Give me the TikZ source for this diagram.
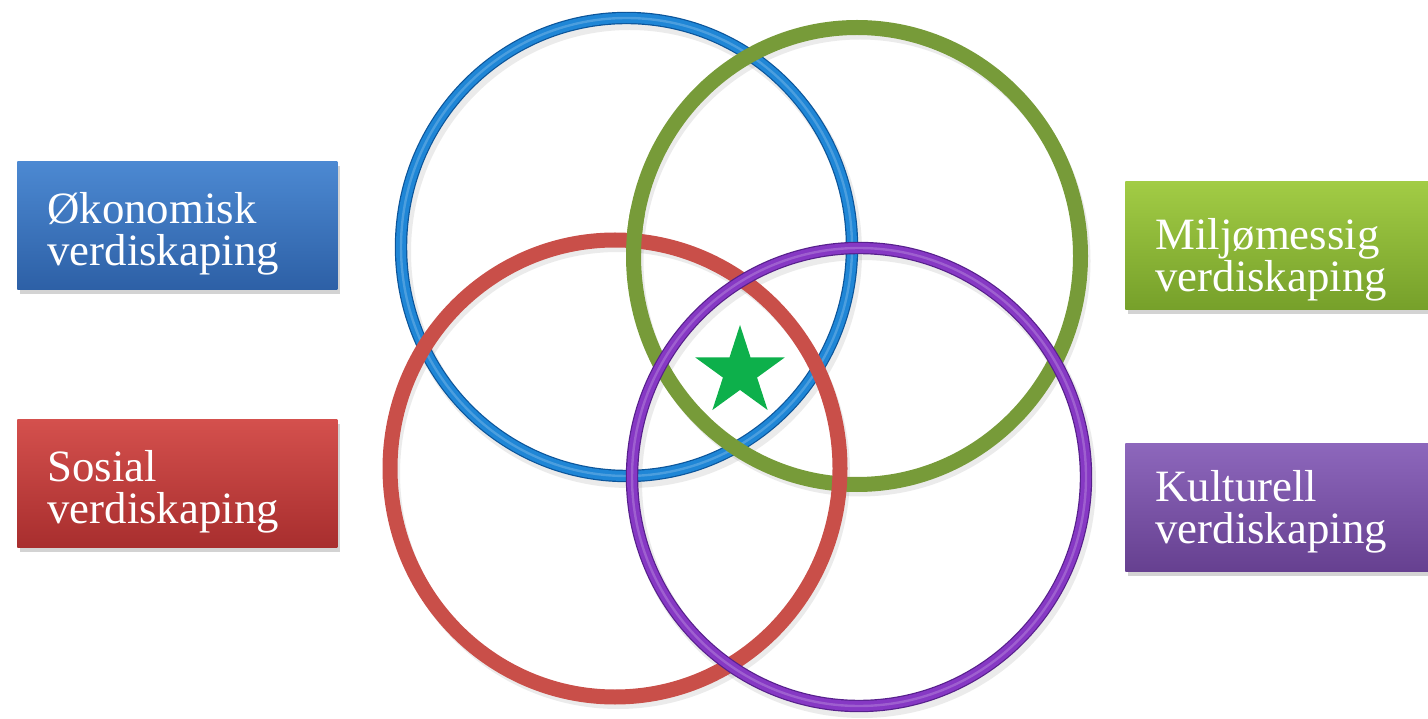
\documentclass[tikz,border=0pt]{standalone}
\usepackage{fontspec}
\setmainfont{Liberation Serif}
\usepackage{tikz}
\usetikzlibrary{shapes.geometric,shadows}
\definecolor{cBlue}{HTML}{1F86D6}
\definecolor{cBlueDk}{HTML}{0C559A}
\definecolor{cGreen}{HTML}{779B39}
\definecolor{cRed}{HTML}{C94F49}
\definecolor{cPurple}{HTML}{8638C4}
\definecolor{cPurpleDk}{HTML}{57208C}
\definecolor{cStar}{HTML}{0DB04B}
\definecolor{bBlueTop}{HTML}{4C89D2}
\definecolor{bBlueBot}{HTML}{2D60A6}
\definecolor{bRedTop}{HTML}{D4504D}
\definecolor{bRedBot}{HTML}{A82E2E}
\definecolor{bGreenTop}{HTML}{A2CC45}
\definecolor{bGreenBot}{HTML}{76A02A}
\definecolor{bPurpleTop}{HTML}{8D67BC}
\definecolor{bPurpleBot}{HTML}{664090}
\tikzset{
  lbl/.style={minimum width=160pt, minimum height=64pt, inner xsep=15pt,
    inner ysep=0pt, text height=31pt, text depth=33pt,
    text width=130pt, align=left, anchor=south west, text=white,
    font=\fontsize{22.4}{20.8}\selectfont,
    drop shadow={shadow xshift=1.5pt, shadow yshift=-2pt, opacity=0.35}},
  ringshade/.style={line width=7pt, draw=black, opacity=0.08},
  tube/.style={line width=0.6pt, double distance=5pt},
  shine/.style={line width=1.2pt, draw=white, opacity=0.2},
  flatring/.style={line width=7.5pt},
  every picture/.style={line cap=round, line join=round}
}

\begin{document}
\begin{tikzpicture}[x=0.5pt,y=0.5pt]
  \useasboundingbox (0,0) rectangle (1428,718);

  % soft shadows under the rings
  \foreach \cx/\cy/\rx/\ry in {626.5/471/225.5/229, 857/462/223.5/228.5,
                               615/249.5/225/228.5, 859/241/227/229}
    \draw[ringshade] (\cx+3,\cy-5) ellipse [x radius=\rx, y radius=\ry];

  % rings
  \draw[tube, draw=cBlueDk, double=cBlue] (626.5,471) ellipse [x radius=225.5, y radius=229];
  \draw[shine] (626.5,471) ellipse [x radius=225.5, y radius=229];
  \draw[flatring, draw=cGreen] (857,462) ellipse [x radius=223.5, y radius=228.5];
  \draw[flatring, draw=cRed] (615,249.5) ellipse [x radius=225, y radius=228.5];
  \begin{scope}
    \clip (628,485) circle [radius=24];
    \draw[flatring, draw=cGreen] (857,462) ellipse [x radius=223.5, y radius=228.5];
  \end{scope}
  \draw[tube, draw=cPurpleDk, double=cPurple] (859,241) ellipse [x radius=227, y radius=229];
  \draw[shine] (859,241) ellipse [x radius=227, y radius=229];

  \node[star, star points=5, star point ratio=2.618, fill=cStar,
        minimum size=47pt, inner sep=0pt] (stjerne) at (740,346) {};

  % labels
  \node[lbl, top color=bBlueTop, bottom color=bBlueBot] (oko) at (17,428) {Økonomisk\\verdiskaping};
  \node[lbl, top color=bRedTop, bottom color=bRedBot] (sos) at (17,170) {Sosial\\verdiskaping};
  \node[lbl, top color=bGreenTop, bottom color=bGreenBot, text height=34pt, text depth=30pt]
    (milj) at (1125,408) {Miljømessig\\verdiskaping};
  \node[lbl, top color=bPurpleTop, bottom color=bPurpleBot, text height=29pt, text depth=35pt]
    (kult) at (1125,146) {Kulturell\\verdiskaping};
\end{tikzpicture}
\end{document}
